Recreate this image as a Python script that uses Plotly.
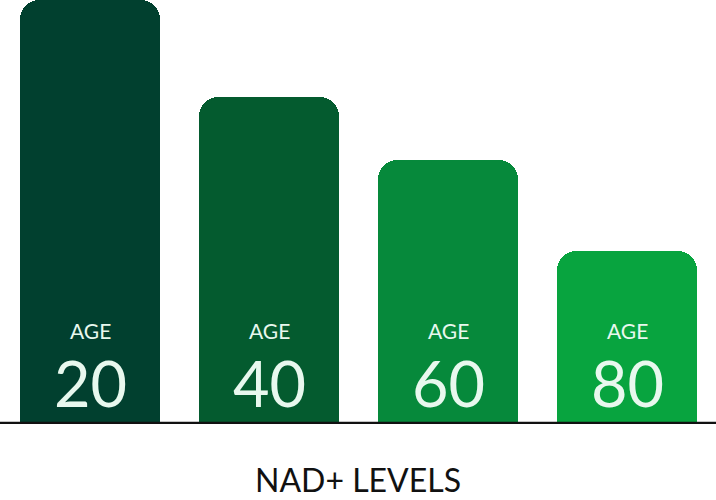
import plotly.graph_objects as go

# data
ages = ["20", "40", "60", "80"]
nad_levels = [100, 77, 62, 40.5]
bar_colors = ["#01402F", "#045B2F", "#06893B", "#08A43F"]
axis_title = "NAD+ LEVELS"

FONT = "Lato"
TEXT_COLOR = "#E8F8EE"

fig = go.Figure()

fig.add_trace(go.Bar(
    x=list(range(len(ages))),
    y=nad_levels,
    width=0.782,
    marker=dict(color=bar_colors, line=dict(width=0), cornerradius=19),
    hoverinfo="skip",
    showlegend=False,
))

annotations = []
for i, age in enumerate(ages):
    # small "AGE" label
    annotations.append(dict(
        x=i, y=21.7, xref="x", yref="y", text="AGE", showarrow=False,
        font=dict(family=FONT, size=21, color=TEXT_COLOR),
        xanchor="center", yanchor="middle",
    ))
    # big number
    annotations.append(dict(
        x=i, y=9.5, xref="x", yref="y", text=age, showarrow=False,
        font=dict(family=FONT, size=63, color=TEXT_COLOR),
        xanchor="center", yanchor="middle",
    ))

# bottom label, kept just inside the page edge
annotations.append(dict(
    x=0.5, y=-0.131, xref="paper", yref="paper", text=axis_title,
    showarrow=False, font=dict(family=FONT, size=32, color="#111111"),
    xanchor="center", yanchor="middle",
))

fig.update_layout(
    width=716,
    height=500,
    margin=dict(l=0, r=0, t=0, b=76),
    paper_bgcolor="white",
    plot_bgcolor="white",
    bargap=0,
    xaxis=dict(range=[-0.503, 3.497], showticklabels=False, showgrid=False,
               zeroline=False, showline=False, fixedrange=True),
    yaxis=dict(range=[-0.4, 100], showticklabels=False, showgrid=False,
               zeroline=False, showline=False, fixedrange=True),
    shapes=[dict(type="line", xref="paper", yref="y", x0=0, x1=1, y0=-0.2, y1=-0.2,
                 line=dict(color="#111111", width=3))],
    annotations=annotations,
)

# drop the browser's default body margin so the figure sits at the top-left
fig.write_html("out.html", config={"displayModeBar": False},
               post_script="document.body.style.margin='0';")
